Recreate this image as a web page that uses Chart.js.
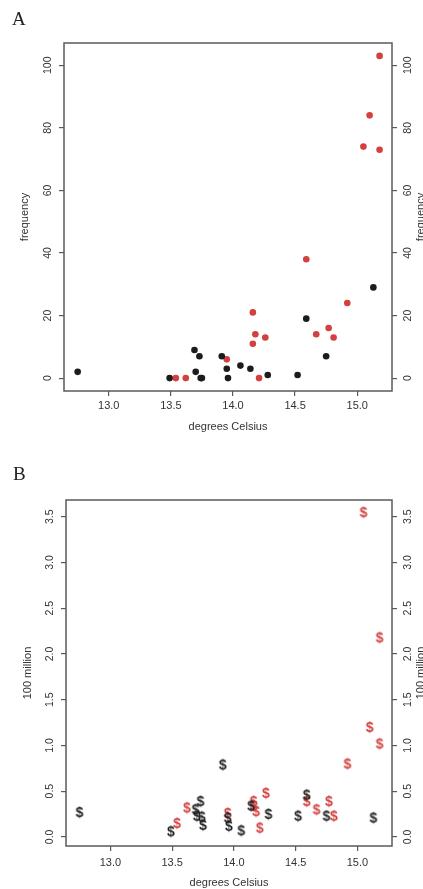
<!DOCTYPE html>
<html>
<head>
<meta charset="utf-8">
<script src="https://cdn.jsdelivr.net/npm/chart.js@4.4.1/dist/chart.umd.min.js"></script>
<style>
  body { margin: 0; background: #fff; width: 423px; height: 889px; position: relative; overflow: hidden; }
  canvas { position: absolute; left: 0; }
  .tag { position: absolute; font-family: "Liberation Serif", "DejaVu Serif", serif; font-size: 19px; color: #222; }
</style>
</head>
<body>
<canvas id="chartA" width="423" height="440" style="top:0"></canvas>
<canvas id="chartB" width="423" height="449" style="top:440px"></canvas>
<div class="tag" style="left:12px;top:8px">A</div>
<div class="tag" style="left:13px;top:463px">B</div>
<script>
// temperature of each year (x), black and red groups
const tempBlack = [12.75, 13.49, 13.69, 13.70, 13.73, 13.74, 13.75, 13.91, 13.95, 13.96, 14.06, 14.14, 14.28, 14.52, 14.59, 14.75, 15.13];
const tempRed   = [13.54, 13.62, 13.95, 14.16, 14.16, 14.18, 14.21, 14.26, 14.59, 14.67, 14.77, 14.81, 14.92, 15.05, 15.10, 15.18, 15.18];

// panel A: frequency
const freqBlack = [2, 0, 9, 2, 7, 0, 0, 7, 3, 0, 4, 3, 1, 1, 19, 7, 29];
const freqRed   = [0, 0, 6, 11, 21, 14, 0, 13, 38, 14, 16, 13, 24, 74, 84, 73, 103];

// panel B: cost, 100 million
const costBlack = [0.26, 0.05, 0.29, 0.22, 0.38, 0.21, 0.12, 0.78, 0.20, 0.11, 0.06, 0.33, 0.24, 0.22, 0.45, 0.22, 0.20];
const costRed   = [0.14, 0.31, 0.25, 0.33, 0.38, 0.27, 0.09, 0.47, 0.38, 0.29, 0.38, 0.22, 0.79, 3.54, 1.19, 1.01, 2.17];

const xTicks = [13.0, 13.5, 14.0, 14.5, 15.0];
const freqTicks = [0, 20, 40, 60, 80, 100];
const costTicks = [0.0, 0.5, 1.0, 1.5, 2.0, 2.5, 3.0, 3.5];

const BLACK = '#1c1c1c';
const RED = '#d2403f';
const FRAME = '#5a5a5a';
const LABEL = '#333';
const SANS = '"Liberation Sans", Arial, sans-serif';

function dollar(color) {
  const c = document.createElement('canvas');
  c.width = 14; c.height = 18;
  const g = c.getContext('2d');
  g.font = 'bold 14px ' + SANS;
  g.fillStyle = color;
  g.textAlign = 'center';
  g.textBaseline = 'middle';
  g.fillText('$', 7, 9.5);
  return c;
}

function pts(xs, ys) {
  return xs.map((x, i) => ({ x: x, y: ys[i] }));
}

// R-like frame, rotated y tick labels and axis titles
const rAxes = {
  id: 'rAxes',
  afterDraw(chart, args, o) {
    const ctx = chart.ctx;
    const a = chart.chartArea;
    ctx.save();
    ctx.strokeStyle = FRAME;
    ctx.lineWidth = 1.5;
    ctx.strokeRect(a.left, a.top, a.right - a.left, a.bottom - a.top);

    ctx.fillStyle = LABEL;
    ctx.textAlign = 'center';
    ctx.textBaseline = 'middle';
    ctx.font = '10.5px ' + SANS;
    const ys = chart.scales.y;
    o.ticks.forEach(v => {
      const py = ys.getPixelForValue(v);
      [a.left - 16, a.right + 16].forEach(px => {
        ctx.save();
        ctx.translate(px, py);
        ctx.rotate(-Math.PI / 2);
        ctx.fillText(v.toFixed(o.digits), 0, 0);
        ctx.restore();
      });
    });

    ctx.font = '11px ' + SANS;
    const my = (a.top + a.bottom) / 2;
    [o.leftX, o.rightX].forEach(px => {
      ctx.save();
      ctx.translate(px, my);
      ctx.rotate(-Math.PI / 2);
      ctx.fillText(o.yTitle, 0, 0);
      ctx.restore();
    });
    ctx.fillText('degrees Celsius', (a.left + a.right) / 2, o.xTitleY);
    ctx.restore();
  }
};

function makePanel(id, box, datasets, yRange, axes) {
  const el = document.getElementById(id);
  const W = el.width, H = el.height;
  const tickGrid = { drawOnChartArea: false, drawTicks: true, tickLength: 5, color: FRAME, lineWidth: 1.2 };
  return new Chart(el, {
    type: 'scatter',
    data: { datasets: datasets },
    options: {
      responsive: false,
      animation: false,
      events: [],
      layout: { padding: { top: box.top, left: 0, right: 0, bottom: 0 } },
      plugins: { legend: { display: false }, tooltip: { enabled: false }, rAxes: axes },
      scales: {
        x: {
          type: 'linear', position: 'bottom', min: 12.64, max: 15.28,
          afterBuildTicks: s => { s.ticks = xTicks.map(v => ({ value: v })); },
          ticks: { callback: v => v.toFixed(1), color: LABEL, font: { family: SANS, size: 11 }, padding: box.xPad, maxRotation: 0, autoSkip: false },
          grid: tickGrid,
          border: { display: false },
          afterFit: s => { s.height = H - box.bottom; }
        },
        y: {
          type: 'linear', position: 'left', min: yRange[0], max: yRange[1],
          afterBuildTicks: s => { s.ticks = axes.ticks.map(v => ({ value: v })); },
          ticks: { display: false },
          grid: tickGrid,
          border: { display: false },
          afterFit: s => { s.width = box.left; }
        },
        y2: {
          type: 'linear', position: 'right', min: yRange[0], max: yRange[1],
          afterBuildTicks: s => { s.ticks = axes.ticks.map(v => ({ value: v })); },
          ticks: { display: false },
          grid: tickGrid,
          border: { display: false },
          afterFit: s => { s.width = W - box.right; }
        }
      }
    },
    plugins: [rAxes]
  });
}

makePanel('chartA', { top: 43, bottom: 391, left: 64, right: 392, xPad: 3 }, [
  { data: pts(tempBlack, freqBlack), backgroundColor: BLACK, borderWidth: 0, pointRadius: 3.3 },
  { data: pts(tempRed, freqRed), backgroundColor: RED, borderWidth: 0, pointRadius: 3.3 }
], [-4.12, 107.12], { ticks: freqTicks, digits: 0, yTitle: 'frequency', leftX: 25, rightX: 421, xTitleY: 427 });

makePanel('chartB', { top: 60, bottom: 406, left: 66, right: 392, xPad: 5 }, [
  { data: pts(tempBlack, costBlack), pointStyle: dollar(BLACK) },
  { data: pts(tempRed, costRed), pointStyle: dollar(RED) }
], [-0.10, 3.684], { ticks: costTicks, digits: 1, yTitle: '100 million', leftX: 28, rightX: 421, xTitleY: 443 });
</script>
</body>
</html>
